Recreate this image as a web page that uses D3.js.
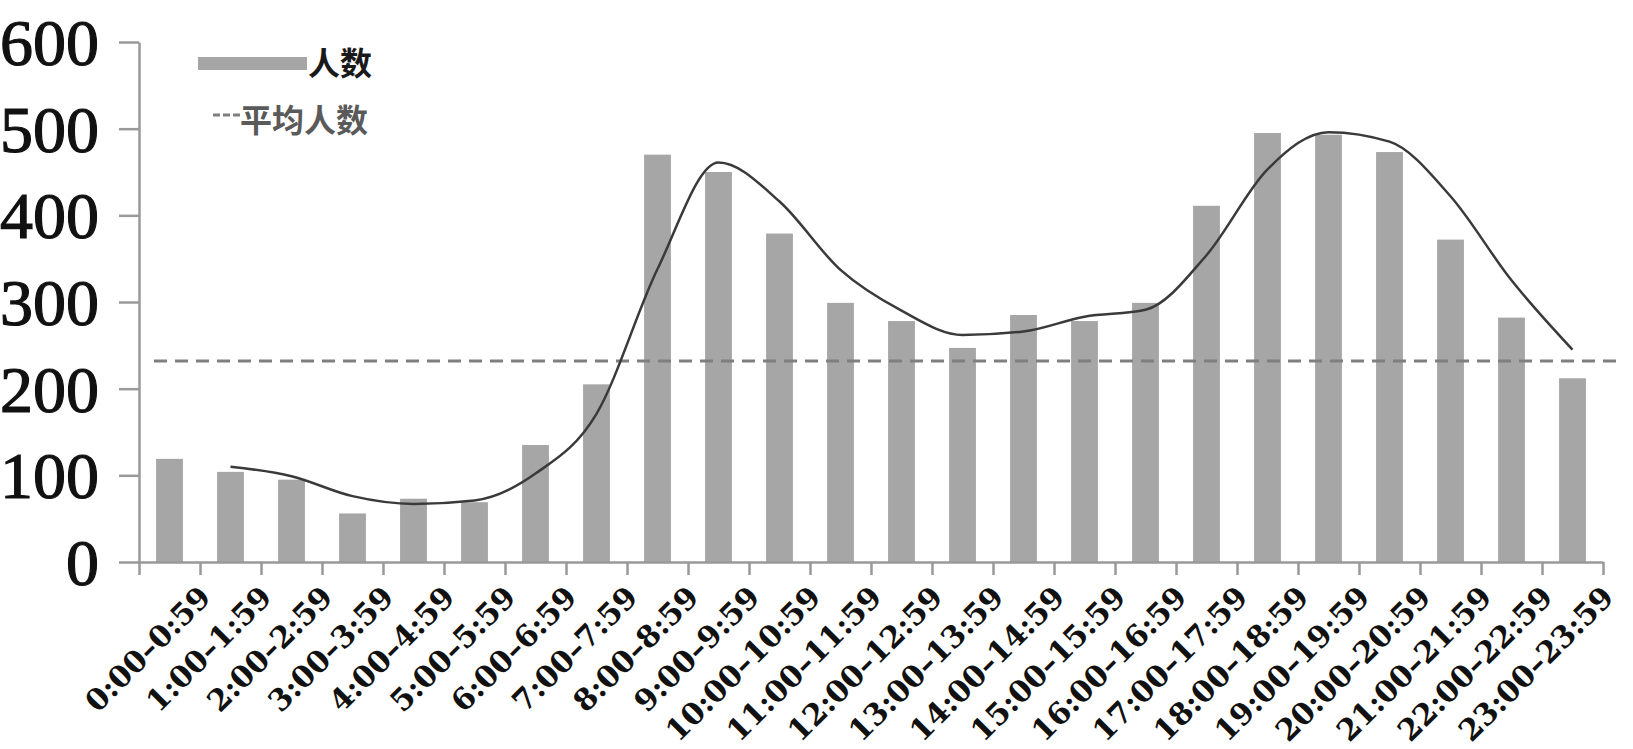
<!DOCTYPE html>
<meta charset="utf-8">
<style>
  body { margin: 0; background: #fff; }
  .yaxis text { font-family: "Liberation Serif", serif; font-size: 66px; fill: #111; stroke: #111; stroke-width: 1.2px; }
  .xlabel { font-family: "DejaVu Serif", serif; font-weight: bold; font-size: 30px; fill: #111; }
  .legend text { font-family: "Noto Sans CJK SC", sans-serif; font-weight: bold; font-size: 32px; }
</style>
<svg width="1633" height="749"></svg>
<script src="https://cdn.jsdelivr.net/npm/d3@7"></script>
<script>

// hours of the day
var slots = ["0:00–0:59","1:00–1:59","2:00–2:59","3:00–3:59","4:00–4:59","5:00–5:59",
  "6:00–6:59","7:00–7:59","8:00–8:59","9:00–9:59","10:00–10:59","11:00–11:59",
  "12:00–12:59","13:00–13:59","14:00–14:59","15:00–15:59","16:00–16:59","17:00–17:59",
  "18:00–18:59","19:00–19:59","20:00–20:59","21:00–21:59","22:00–22:59","23:00–23:59"];

// 人数 (bars)
var counts = [119,104,95,56,73,69,135,205,470,450,379,299,278,247,285,278,299,411,495,493,473,372,282,212];

// trend curve (starts at the 2nd slot)
var trend = [null,110,99,76,67,71,102,171,338,461,416,337,290,262,266,283,291,354,453,496,485,422,325,245];

var avgCount = 232;   // 平均人数
var yTicks = [0,100,200,300,400,500,600];

var svg = d3.select("svg");
var mLeft = 139, mRight = 1603, mTop = 42, mBottom = 562;

var x = d3.scaleBand().domain(slots).range([mLeft, mRight]).padding(0);
var xt = d3.scaleLinear().domain([0, slots.length]).range([mLeft, mRight]);
var y = d3.scaleLinear().domain([0, 600]).range([mBottom, mTop]);

// bars
var bw = x.bandwidth() * 0.44;
svg.append("g")
  .selectAll("rect")
  .data(counts)
  .enter().append("rect")
    .attr("x", function(d, i) { return x(slots[i]) + (x.bandwidth() - bw) / 2; })
    .attr("y", function(d) { return y(d); })
    .attr("width", bw)
    .attr("height", function(d) { return y(0) - y(d); })
    .attr("fill", "#a6a6a6");

// average dashed line
svg.append("line")
  .attr("x1", 154).attr("x2", 1617)
  .attr("y1", y(avgCount)).attr("y2", y(avgCount))
  .attr("stroke", "#7f7f7f")
  .attr("stroke-width", 3)
  .attr("stroke-dasharray", "13,8");

// trend line
var line = d3.line()
  .defined(function(d) { return d != null; })
  .x(function(d, i) { return x(slots[i]) + x.bandwidth() / 2; })
  .y(function(d) { return y(d); })
  .curve(d3.curveMonotoneX);

svg.append("path")
  .datum(trend)
  .attr("d", line)
  .attr("fill", "none")
  .attr("stroke", "#3a3a3a")
  .attr("stroke-width", 2.5);

// y axis
var yAxis = svg.append("g")
  .attr("class", "yaxis")
  .attr("transform", "translate(" + mLeft + ",0)")
  .call(d3.axisLeft(y).tickValues(yTicks).tickSize(20).tickSizeOuter(0).tickPadding(20));
yAxis.select(".domain").attr("stroke", "#999").attr("stroke-width", 2.5);
yAxis.selectAll(".tick line").attr("stroke", "#999").attr("stroke-width", 2.5);
yAxis.selectAll(".tick text").attr("dy", "0.34em");

// x axis (ticks on band edges)
var xAxis = svg.append("g")
  .attr("transform", "translate(0," + mBottom + ")")
  .call(d3.axisBottom(xt).tickValues(d3.range(slots.length + 1)).tickFormat("").tickSize(13).tickSizeOuter(0));
xAxis.select(".domain").attr("stroke", "#999").attr("stroke-width", 2.5);
xAxis.selectAll(".tick line").attr("stroke", "#999").attr("stroke-width", 2.5);

svg.append("g")
  .selectAll("text")
  .data(slots)
  .enter().append("text")
    .attr("class", "xlabel")
    .attr("text-anchor", "end")
    .attr("transform", function(d) {
      return "translate(" + (x(d) + x.bandwidth() / 2 + 43) + "," + (mBottom + 37) + ")rotate(-45)";
    })
    .text(function(d) { return d; });

// legend
var legend = svg.append("g").attr("class", "legend");
legend.append("rect")
  .attr("x", 198).attr("y", 57).attr("width", 109).attr("height", 13)
  .attr("fill", "#a6a6a6");
legend.append("text")
  .attr("x", 308).attr("y", 75)
  .attr("fill", "#1a1a1a")
  .text("人数");
legend.append("line")
  .attr("x1", 213).attr("x2", 240).attr("y1", 115).attr("y2", 115)
  .attr("stroke", "#7f7f7f").attr("stroke-width", 3)
  .attr("stroke-dasharray", "7,3");
legend.append("text")
  .attr("x", 240).attr("y", 132)
  .attr("fill", "#5a5a5a")
  .text("平均人数");

</script>
